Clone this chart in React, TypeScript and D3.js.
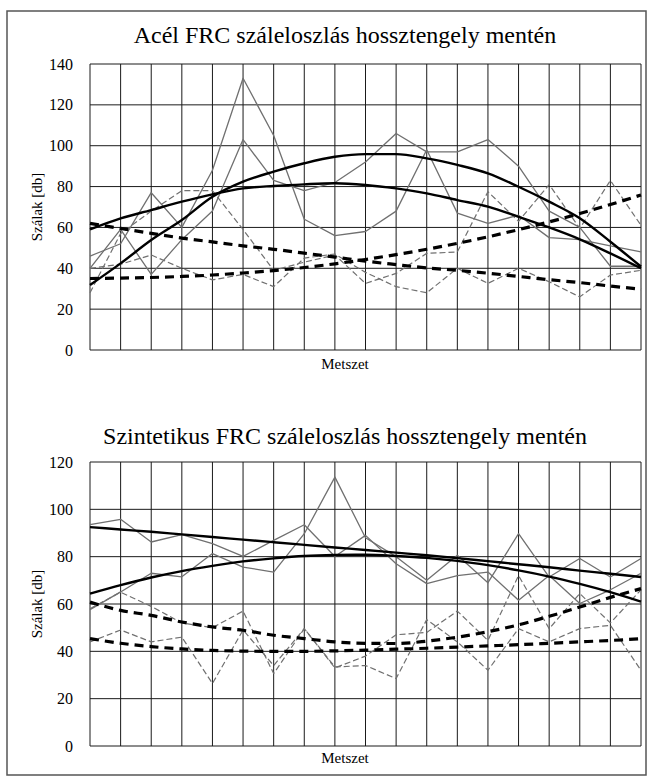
import React from "react";
import * as d3 from "d3";

// ---------- data ----------
const categories = ["1","2","3","4","5","6","7","8","9","10","11","12","13","14","15","16","17","18","19"];

const steelTicks = [0, 20, 40, 60, 80, 100, 120, 140];
const synTicks = [0, 20, 40, 60, 80, 100, 120];

// Acél FRC – measured series
const steelSolidA = [46, 52, 77, 60, 88, 133, 105, 64, 56, 58, 68, 98, 67, 62, 66, 55, 54, 51, 48];
const steelSolidB = [40, 59, 37, 54, 68, 103, 83, 78, 82, 92, 106, 97, 97, 103, 90, 68, 60, 41, 41];
const steelDashA = [28, 57, 68, 78, 78, 59, 39, 43, 46.5, 32.6, 37.5, 47.3, 48, 77.5, 63, 81, 59.5, 83, 61];
const steelDashB = [40, 42, 46.5, 40, 34.3, 37, 31, 45, 47, 38, 31, 28, 40, 32.6, 40, 33.4, 26, 36.7, 39];
// Acél FRC – trend lines
const steelTrendSolidA = [59, 64.4, 68.5, 72.6, 76.2, 79.1, 80.3, 81.1, 81.6, 80.8, 79.1, 76.7, 73.4, 70.2, 65.2, 60, 54.2, 47.3, 40];
const steelTrendSolidB = [31.8, 42.4, 53.8, 63.6, 75, 82.4, 87.3, 91.4, 94.6, 95.9, 95.9, 93.8, 90.6, 86.5, 79.9, 72.6, 64.5, 53, 40.8];
const steelTrendDashA = [35, 35.2, 35.5, 36, 36.7, 37.7, 38.9, 40.4, 42.2, 44.3, 46.7, 49.3, 52.2, 55.4, 58.9, 62.7, 66.8, 71.2, 75.9];
const steelTrendDashB = [62, 59.5, 57.1, 54.8, 52.9, 51, 49.3, 47.4, 45.5, 43.5, 41.8, 40.2, 39, 37.6, 36, 34.4, 33, 31.3, 29.8];

// Szintetikus FRC – measured series
const synSolidA = [93.5, 95.8, 86.2, 89.3, 85.5, 80.1, 86.9, 93.5, 80.1, 89, 77, 68.6, 72, 73.5, 61.6, 72, 60.2, 66, 73];
const synSolidB = [57.6, 65.1, 73, 71.5, 81.3, 75.6, 73.5, 89.7, 113.6, 88, 80, 70, 80.6, 69, 89.7, 71.4, 79.2, 71.4, 79.2];
const synDashA = [58, 65, 59, 52, 50, 57, 30.6, 49.6, 33.4, 34, 28.5, 53.4, 44, 32, 49.6, 44, 49.6, 51, 32];
const synDashB = [44, 49, 44, 46, 26.4, 49, 34, 49.6, 33, 38, 47, 48, 57, 44.6, 72, 49.6, 64.4, 52, 66];
// Szintetikus FRC – trend lines
const synTrendSolidA = [92.5, 91.5, 90.5, 89.4, 88.3, 87.2, 86.1, 85, 83.9, 82.8, 81.7, 80.6, 79.4, 78.1, 76.8, 75.5, 74.1, 72.8, 71.4];
const synTrendSolidB = [64.4, 68, 71.2, 73.9, 76.1, 78, 79.3, 80.3, 80.7, 80.8, 80.3, 79.5, 78.2, 76.4, 74.2, 71.6, 68.5, 65, 61];
const synTrendDashA = [60.8, 57.3, 55.2, 52.4, 50.3, 48.9, 46.8, 45.4, 44, 43.4, 43.3, 44.3, 46, 48.3, 51.2, 54.8, 58.7, 62.8, 66.5];
const synTrendDashB = [45.4, 43.4, 42, 41, 40.4, 40.1, 40, 40, 40.2, 40.5, 40.9, 41.3, 41.8, 42.3, 42.8, 43.4, 44, 44.6, 45.3];

// ---------- styles ----------
type Kind = "dataSolid" | "dataDash" | "trendSolid" | "trendDash";
const styleFor: Record<Kind, { stroke: string; width: number; dash?: string }> = {
  dataSolid: { stroke: "#707070", width: 1.3 },
  dataDash: { stroke: "#707070", width: 1.2, dash: "6,3" },
  trendSolid: { stroke: "#000000", width: 2.4 },
  trendDash: { stroke: "#000000", width: 3.2, dash: "9,6" },
};

const FONT = "'Liberation Serif', 'Times New Roman', serif";

type ChartProps = {
  title: string;
  titleY: number;
  plotTop: number;
  plotBottom: number;
  yMax: number;
  ticks: number[];
  series: { values: number[]; kind: Kind }[];
  xLabelY: number;
};

const PLOT_LEFT = 90;
const PLOT_RIGHT = 641;
const TEXT_CENTER = 345;

function Chart({ title, titleY, plotTop, plotBottom, yMax, ticks, series, xLabelY }: ChartProps) {
  const x = d3.scalePoint<string>().domain(categories).range([PLOT_LEFT, PLOT_RIGHT]);
  const y = d3.scaleLinear().domain([0, yMax]).range([plotBottom, plotTop]);

  const makeLine = (kind: Kind) =>
    d3
      .line<number>()
      .x((_, i) => x(categories[i]) as number)
      .y((d) => y(d))
      .curve(kind.startsWith("trend") ? d3.curveMonotoneX : d3.curveLinear);

  const order: Kind[] = ["dataDash", "dataSolid", "trendDash", "trendSolid"];

  return (
    <g>
      <text x={TEXT_CENTER} y={titleY} textAnchor="middle" fontFamily={FONT} fontSize={24} fill="#000">
        {title}
      </text>
      {/* horizontal grid */}
      {ticks.map((t) => (
        <g key={"h" + t}>
          <line x1={PLOT_LEFT} x2={PLOT_RIGHT} y1={y(t)} y2={y(t)} stroke="#1a1a1a" strokeWidth={1} />
          <text x={73} y={y(t)} dy="0.35em" textAnchor="end" fontFamily={FONT} fontSize={16} fill="#000">
            {t}
          </text>
        </g>
      ))}
      {/* vertical grid */}
      {categories.map((c) => (
        <line key={"v" + c} x1={x(c)} x2={x(c)} y1={plotTop} y2={plotBottom} stroke="#1a1a1a" strokeWidth={1} />
      ))}
      {order.map((k) =>
        series
          .filter((s) => s.kind === k)
          .map((s, i) => (
            <path
              key={k + i}
              d={makeLine(k)(s.values) || ""}
              fill="none"
              stroke={styleFor[k].stroke}
              strokeWidth={styleFor[k].width}
              strokeDasharray={styleFor[k].dash}
              strokeLinejoin="round"
            />
          ))
      )}
      <text
        transform={`translate(42, ${(plotTop + plotBottom) / 2}) rotate(-90)`}
        textAnchor="middle"
        fontFamily={FONT}
        fontSize={15}
        fill="#000"
      >
        Szálak [db]
      </text>
      <text x={TEXT_CENTER} y={xLabelY} textAnchor="middle" fontFamily={FONT} fontSize={15} fill="#000">
        Metszet
      </text>
    </g>
  );
}

export default function App() {
  return (
    <svg
      width={653}
      height={781}
      style={{ position: "absolute", left: 0, top: 0, background: "#fff" }}
    >
      <rect x={0} y={0} width={653} height={781} fill="#fff" />
      <rect x={7} y={11} width={639} height={764} fill="none" stroke="#555" strokeWidth={1.5} />
      <Chart
        title="Acél FRC száleloszlás hossztengely mentén"
        titleY={43}
        plotTop={64}
        plotBottom={350}
        yMax={140}
        ticks={steelTicks}
        xLabelY={369}
        series={[
          { values: steelSolidA, kind: "dataSolid" },
          { values: steelSolidB, kind: "dataSolid" },
          { values: steelDashA, kind: "dataDash" },
          { values: steelDashB, kind: "dataDash" },
          { values: steelTrendSolidA, kind: "trendSolid" },
          { values: steelTrendSolidB, kind: "trendSolid" },
          { values: steelTrendDashA, kind: "trendDash" },
          { values: steelTrendDashB, kind: "trendDash" },
        ]}
      />
      <Chart
        title="Szintetikus FRC száleloszlás hossztengely mentén"
        titleY={444}
        plotTop={462}
        plotBottom={746}
        yMax={120}
        ticks={synTicks}
        xLabelY={763}
        series={[
          { values: synSolidA, kind: "dataSolid" },
          { values: synSolidB, kind: "dataSolid" },
          { values: synDashA, kind: "dataDash" },
          { values: synDashB, kind: "dataDash" },
          { values: synTrendSolidA, kind: "trendSolid" },
          { values: synTrendSolidB, kind: "trendSolid" },
          { values: synTrendDashA, kind: "trendDash" },
          { values: synTrendDashB, kind: "trendDash" },
        ]}
      />
    </svg>
  );
}
